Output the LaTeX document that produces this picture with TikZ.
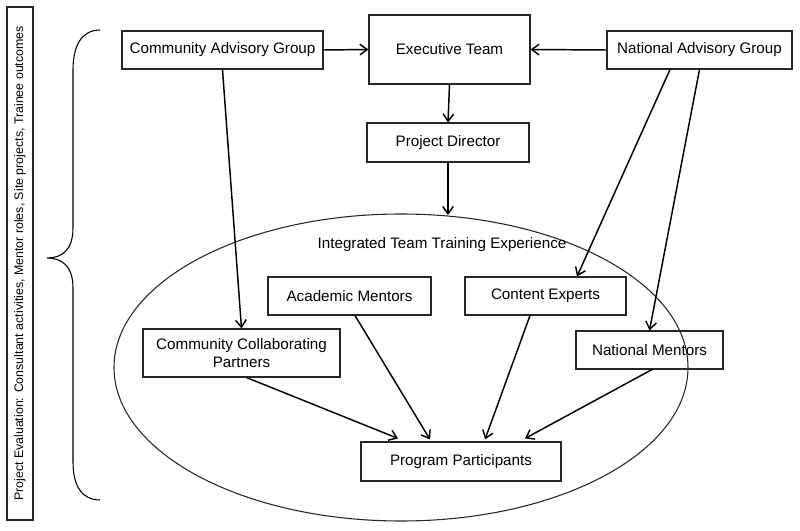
\documentclass[tikz,border=0pt]{standalone}
\usepackage{fontspec}
\setmainfont{Liberation Sans}
\usetikzlibrary{arrows.meta,calc,shapes.geometric}
\tikzset{
  box/.style={draw=black!85, line width=0.8pt, inner sep=0pt, align=center, font=\fontsize{11.4pt}{13.5pt}\selectfont},
  conn/.style={line width=1.1pt, -{Straight Barb[length=5.5pt,width=8pt,line width=1.1pt]}},
}
\begin{document}
\begin{tikzpicture}[x=0.75pt,y=-0.75pt]
\useasboundingbox (0,0) rectangle (800,531);
% evaluation box
\node[draw=black!85, line width=0.8pt, rotate=90, minimum width=513*0.75pt, minimum height=26*0.75pt, inner sep=0pt, font=\fontsize{9.3pt}{10pt}\selectfont] (eval) at (20,263.5) {Project Evaluation: Consultant activities, Mentor roles, Site projects, Trainee outcomes};
% brace
\draw[line width=0.8pt] (100,30) .. controls (82,30) and (73,45) .. (73,70) -- (73,228) .. controls (73,250) and (62,258) .. (47,258) .. controls (62,258) and (73,266) .. (73,288) -- (73,462) .. controls (73,486) and (82,500) .. (100,500);
% ellipse
\node[draw=black!85, line width=0.8pt, ellipse, minimum width=574*0.75pt, minimum height=307*0.75pt, inner sep=0pt] (ell) at (401,367.5) {};
\node[font=\fontsize{11.4pt}{13.5pt}\selectfont] (itt) at (442,245) {Integrated Team Training Experience};
% boxes
\node[box, minimum width=201*0.75pt, minimum height=38*0.75pt] (cag) at (222.5,50) {Community Advisory Group};
\node[box, minimum width=161*0.75pt, minimum height=69*0.75pt] (exec) at (449.5,49.5) {Executive Team};
\node[box, minimum width=162*0.75pt, minimum height=39*0.75pt] (pd) at (448,142.5) {Project Director};
\node[box, minimum width=185*0.75pt, minimum height=38*0.75pt] (nag) at (699.5,50) {National Advisory Group};
\node[box, minimum width=163*0.75pt, minimum height=38*0.75pt] (am) at (349.5,296) {Academic Mentors};
\node[box, minimum width=161*0.75pt, minimum height=38*0.75pt] (ce) at (545.5,296) {Content Experts};
\node[box, minimum width=197*0.75pt, minimum height=48*0.75pt] (ccp) at (241.5,353) {Community Collaborating\\Partners};
\node[box, minimum width=147*0.75pt, minimum height=38*0.75pt] (nm) at (649.5,350) {National Mentors};
\node[box, minimum width=200*0.75pt, minimum height=39*0.75pt] (pp) at (461,461.5) {Program Participants};
% connectors
\draw[conn] (cag.east) -- (exec.west);
\draw[conn] (nag.west) -- (exec.east);
\draw[conn] (exec.south) -- (pd.north);
\draw[conn] (pd.south) -- ($(pd.south |- ell.north)+(0,1.5)$);
\draw[conn] (cag.south) -- (ccp.north);
\draw[conn] ($(nag.south)+(-29.5,0)$) -- ($(ce.north)+(31.5,0)$);
\draw[conn] (nag.south) -- (nm.north);
\draw[conn] ($(ccp.south)+(5,0)$) -- ($(pp.north)+(-63,-3)$);
\draw[conn] ($(am.south)+(5.5,0)$) -- ($(pp.north)+(-31,-2)$);
\draw[conn] ($(ce.south)+(-15.5,0)$) -- ($(pp.north)+(24,-2)$);
\draw[conn] ($(nm.south)+(2.5,0)$) -- ($(pp.north)+(64,-3)$);
\end{tikzpicture}
\end{document}
